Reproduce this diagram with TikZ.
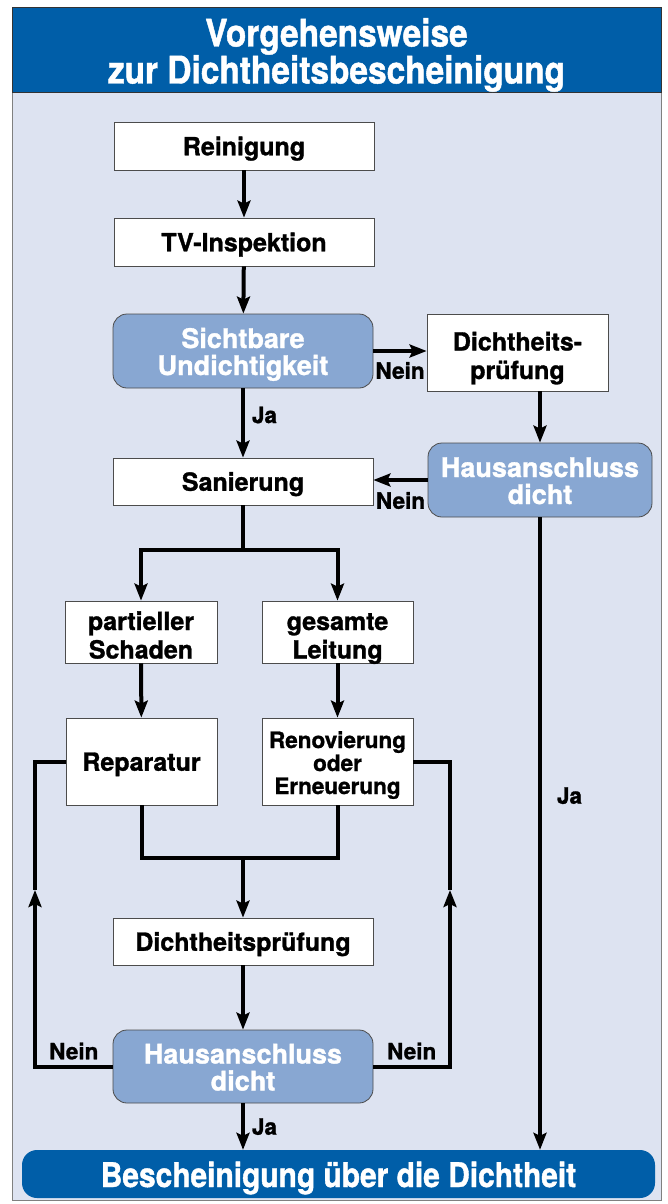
\documentclass[tikz,border=0pt]{standalone}
\usepackage{fontspec}
\setmainfont{TeX Gyre Heros}[BoldFeatures={FakeBold=1.2}]
\newfontfamily\condfont{TeX Gyre Heros}[FakeStretch=0.88, BoldFeatures={FakeBold=1.2}]
\usepackage{xcolor}
\usepackage{tikz}
\usetikzlibrary{positioning, arrows.meta, calc}

\definecolor{headblue}{RGB}{0,94,168}
\definecolor{paleblue}{RGB}{221,227,241}
\definecolor{boxblue}{RGB}{136,167,210}

\begin{document}
\begin{tikzpicture}[x=1pt, y=-1pt,
    box/.style={draw=black!70, line width=0.8pt, fill=white, inner sep=0pt, align=center,
      text height=18.5pt, text depth=0pt, font=\fontsize{25}{28.5}\selectfont\bfseries},
    tall/.style={text height=53pt},
    query/.style={box, fill=boxblue, rounded corners=14pt, text=white, text height=48pt,
      font=\fontsize{27}{27}\selectfont\bfseries},
    banner/.style={fill=headblue, text=white, inner sep=0pt, align=center, text depth=0pt,
      font=\condfont\fontsize{38}{37}\selectfont\bfseries},
    flow/.style={line width=4pt},
    arr/.style={flow, -{Stealth[length=17pt, width=13pt, inset=3pt]}},
    tag/.style={font=\fontsize{22.5}{22.5}\selectfont\bfseries, inner sep=1pt}]

  \useasboundingbox (0,0) rectangle (667,1204);
  \draw[draw=black!50, fill=paleblue] (12,7) rectangle (661,1200);

  \node[banner, draw=black!80, minimum width=649pt, minimum height=85pt, text height=67pt] (title) at (336.5,50)
    {Vorgehensweise\\zur Dichtheitsbescheinigung};

  % linke Spalte
  \node[box, minimum width=260pt, minimum height=48pt] (rein) at (244,146) {Reinigung};
  \node[box, minimum width=260pt, minimum height=48pt] (tv) at (244,242) {TV-Inspektion};
  \node[query, minimum width=260pt, minimum height=74pt] (sicht) at (243,351) {Sichtbare\\Undichtigkeit};
  \node[box, minimum width=260pt, minimum height=47pt] (san) at (243,481.5) {Sanierung};

  % rechte Spalte
  \node[box, tall, minimum width=181pt, minimum height=77pt] (dpr1) at (517.5,352.5) {Dichtheits-\\pr\"ufung};
  \node[query, minimum width=224pt, minimum height=74pt] (hd1) at (540,480) {Hausanschluss\\dicht};

  % Sanierung
  \node[box, tall, minimum width=152pt, minimum height=62pt] (part) at (141,632) {partieller\\Schaden};
  \node[box, tall, minimum width=151pt, minimum height=62pt] (ges) at (337.5,632) {gesamte\\Leitung};
  \node[box, minimum width=151pt, minimum height=87pt] (rep) at (141.5,761.5) {Reparatur};
  \node[box, minimum width=151pt, minimum height=87pt, text height=65pt,
    font=\fontsize{22.5}{23}\selectfont\bfseries] (ren) at (337.5,761.5) {Renovierung\\oder\\Erneuerung};
  \node[box, minimum width=260pt, minimum height=47pt] (dpr2) at (243,941.5) {Dichtheitspr\"ufung};
  \node[query, minimum width=260pt, minimum height=73pt] (hd2) at (243,1066.5) {Hausanschluss\\dicht};

  \node[banner, rounded corners=15pt, minimum width=633pt, minimum height=48pt, text height=26pt,
    font=\condfont\fontsize{34}{34}\selectfont\bfseries] (besch) at (338.5,1174)
    {Bescheinigung \"uber die Dichtheit};

  \coordinate (split) at (243,550);
  \coordinate (join) at (243,858);
  \coordinate (lup) at (35,890);
  \coordinate (rup) at (450,890);

  \draw[arr] (rein) -- (tv);
  \draw[arr] (tv) -- (sicht);
  \draw[arr] (sicht.east) -- node[tag, below=8pt] {Nein} (sicht.east -| dpr1.west);
  \draw[arr] (sicht) -- node[tag, right=6pt, yshift=8pt] {Ja} (san);
  \draw[arr] (dpr1.south -| hd1) -- (hd1);
  \draw[arr] (hd1.west) -- node[tag, below=9pt] {Nein} (hd1.west -| san.east);

  \draw[flow] (san) -- (split);
  \draw[arr] (split) -| (part);
  \draw[arr] (split) -| (ges);
  \draw[arr] (part) -- (rep);
  \draw[arr] (ges) -- (ren);
  \draw[flow] (rep) |- (join) -| (ren);
  \draw[arr] (join) -- (dpr2);
  \draw[arr] (dpr2) -- (hd2);

  \draw[arr] (hd2.west) -| node[tag, pos=0.25, above=4pt] {Nein} (lup);
  \draw[flow] (lup) |- (rep.west);
  \draw[arr] (hd2.east) -| node[tag, pos=0.25, above=4pt] {Nein} (rup);
  \draw[flow] (rup) |- (ren.east);

  \draw[arr] (hd2) -- node[tag, right=6pt] {Ja} (hd2 |- besch.north);
  \draw[arr] (hd1) -- node[tag, pos=0.44, right=14pt] {Ja} (hd1.south |- besch.north);
\end{tikzpicture}
\end{document}
